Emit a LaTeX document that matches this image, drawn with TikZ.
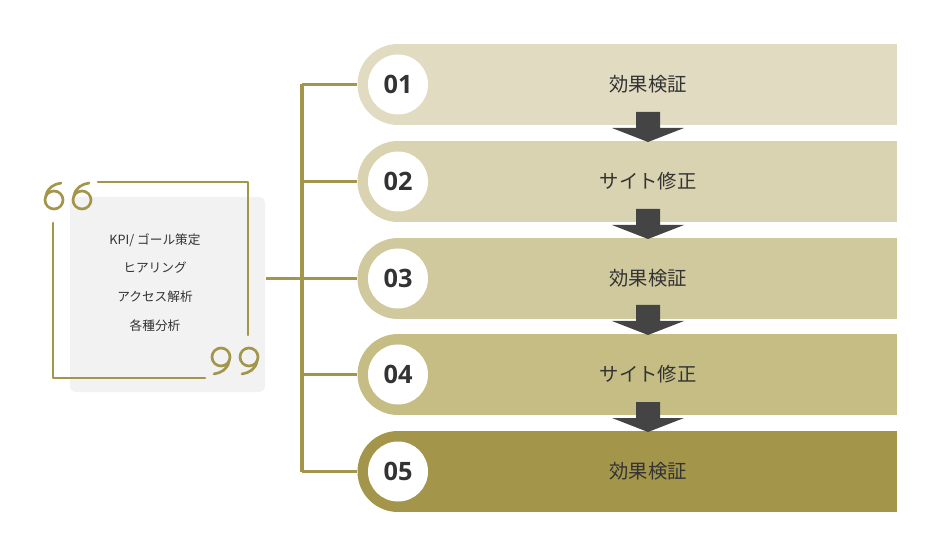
\documentclass[tikz,border=0pt]{standalone}
\usepackage{fontspec}
\newfontfamily\jp{Noto Sans CJK JP}
\newfontfamily\num{Open Sans}
\definecolor{gold}{HTML}{A3964A}
\definecolor{c1}{HTML}{E1DBC1}
\definecolor{c2}{HTML}{D9D3B1}
\definecolor{c3}{HTML}{D0C99D}
\definecolor{c4}{HTML}{C6BD85}
\definecolor{c5}{HTML}{A3964A}
\definecolor{ink}{HTML}{333333}
\definecolor{arr}{HTML}{444444}
\begin{document}
\begin{tikzpicture}[x=0.75pt,y=-0.75pt,
  line/.style={draw=gold,line width=2.3pt},
  ring/.style={circle,minimum size=60.75pt,inner sep=0pt},
  numc/.style={circle,fill=white,minimum size=45pt,inner sep=0pt,font=\num\bfseries\fontsize{19}{19}\selectfont,text=ink},
  lbl/.style={font=\jp\fontsize{14.5}{14.5}\selectfont,text=ink},
  ltxt/.style={font=\jp\fontsize{9.5}{9.5}\selectfont,text=ink}]
\useasboundingbox (0,0) rectangle (940,556);
% bars
\foreach \i/\y/\c/\t in {1/84.5/c1/効果検証,2/181.5/c2/サイト修正,3/278.5/c3/効果検証,4/374.5/c4/サイト修正,5/471.5/c5/効果検証}{
  \fill[\c] (398,\y-40.5) rectangle (897,\y+40.5);
  \node[ring,fill=\c] (b\i) at (398,\y) {};
  \node[numc] (n\i) at (398,\y) {0\i};
  \node[lbl] (t\i) at (648,\y) {\t};
}
% arrows
\foreach \y in {112,209,305,402}{
  \fill[arr] (636,\y) -- (660,\y) -- (660,\y+16) -- (684,\y+16) -- (648,\y+30) -- (612,\y+16) -- (636,\y+16) -- cycle;
}
% left box
\fill[rounded corners=4pt,fill=black!5] (70,197) rectangle (265,392);
\node[ltxt] (l1) at (155,240) {KPI/ ゴール策定};
\node[ltxt] (l2) at (155,268) {ヒアリング};
\node[ltxt] (l3) at (155,297) {アクセス解析};
\node[ltxt] (l4) at (155,326) {各種分析};
\coordinate (bx) at (266,278.5);
\draw[line,line width=2pt,line cap=round,line join=round] (98,182) -- (248,182) -- (248,335);
\draw[line,line width=2pt,line cap=round,line join=round] (53,223) -- (53,378) -- (205,378);
% quote marks
\foreach \x in {54,82}{
  \draw[gold,line width=2pt] (\x,200) circle (9);
  \draw[gold,line width=2pt,line cap=round] (\x-8,196) .. controls (\x-7,188) and (\x,184) .. (\x+7,183);
}
\foreach \x in {221,249}{
  \draw[gold,line width=2pt] (\x,357) circle (9);
  \draw[gold,line width=2pt,line cap=round] (\x+8,361) .. controls (\x+7,369) and (\x,373) .. (\x-7,374);
}
% connectors
\coordinate (sp) at (302,278.5);
\draw[line] (bx) -- (sp);
\draw[line] (302,84.5) -- (302,471.5);
\foreach \i in {1,...,5}{ \draw[line] (b\i.west -| sp) -- (b\i.west); }
\end{tikzpicture}
\end{document}
